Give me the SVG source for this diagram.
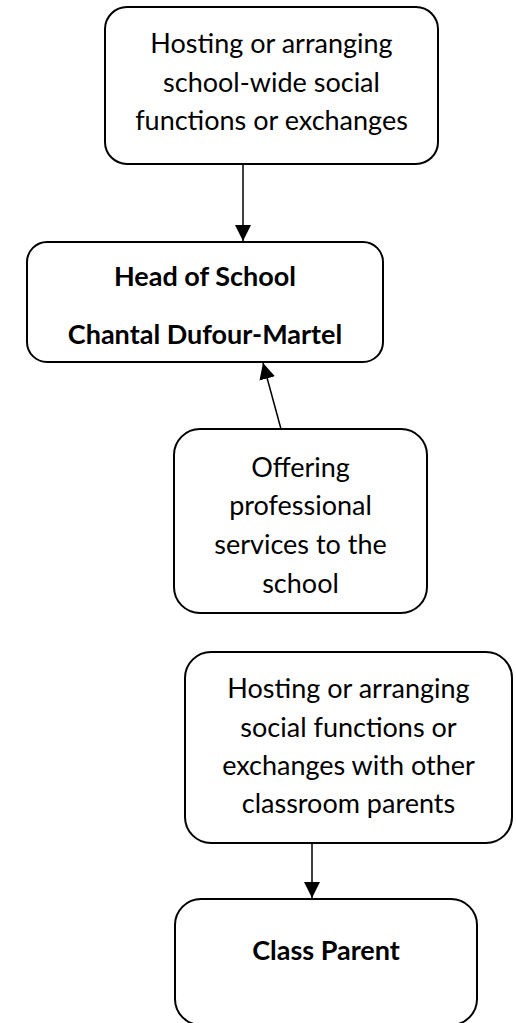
<svg xmlns="http://www.w3.org/2000/svg" width="516" height="1023" viewBox="0 0 516 1023">
<defs>
<style>
.box{fill:#fff;stroke:#000;stroke-width:2}
.t{font-family:Lato,"Open Sans",sans-serif;font-size:27px;fill:#000;text-anchor:middle}
.b{font-weight:bold}
.c{stroke:#000;stroke-width:1.5;fill:none}
</style>
<marker id="ah" viewBox="0 0 16 16" refX="16" refY="8" markerWidth="16" markerHeight="16" markerUnits="userSpaceOnUse" orient="auto">
<path d="M0,0 L16,8 L0,16 Z" fill="#000"/>
</marker>
</defs>
<rect width="516" height="1023" fill="#fff"/>
<g id="connectors">
<line class="c" x1="243" y1="164" x2="243" y2="241" marker-end="url(#ah)"/>
<line class="c" x1="281" y1="429" x2="263" y2="363" marker-end="url(#ah)"/>
<line class="c" x1="312" y1="843" x2="312" y2="898" marker-end="url(#ah)"/>
</g>
<g id="node-hosting-school">
<rect class="box" x="105" y="7" width="333" height="157" rx="22"/>
<text class="t" x="271.5" y="53">Hosting or arranging</text>
<text class="t" x="271.5" y="92">school-wide social</text>
<text class="t" x="271.5" y="130">functions or exchanges</text>
</g>
<g id="node-head">
<rect class="box" x="27" y="242" width="356" height="120" rx="20"/>
<text class="t b" x="205" y="286">Head of School</text>
<text class="t b" x="205" y="344">Chantal Dufour-Martel</text>
</g>
<g id="node-offering">
<rect class="box" x="174" y="429" width="253" height="184" rx="26"/>
<text class="t" x="300.5" y="477">Offering</text>
<text class="t" x="300.5" y="515">professional</text>
<text class="t" x="300.5" y="554">services to the</text>
<text class="t" x="300.5" y="593">school</text>
</g>
<g id="node-hosting-class">
<rect class="box" x="185" y="652" width="327" height="191" rx="26"/>
<text class="t" x="348.5" y="698">Hosting or arranging</text>
<text class="t" x="348.5" y="737">social functions or</text>
<text class="t" x="348.5" y="775">exchanges with other</text>
<text class="t" x="348.5" y="813">classroom parents</text>
</g>
<g id="node-class-parent">
<rect class="box" x="175" y="899" width="302" height="126" rx="26"/>
<text class="t b" x="326" y="960">Class Parent</text>
</g>
</svg>
